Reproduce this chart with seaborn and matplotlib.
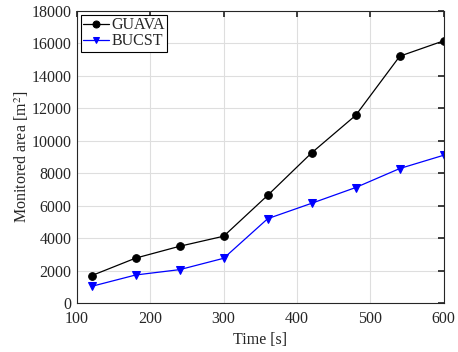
import matplotlib
matplotlib.use("Agg")
import matplotlib.pyplot as plt
import seaborn as sns
import pandas as pd

time_s = [120, 180, 240, 300, 360, 420, 480, 540, 600]
guava = [1690, 2770, 3500, 4120, 6640, 9260, 11570, 15210, 16160]
bucst = [1030, 1730, 2060, 2760, 5200, 6150, 7120, 8290, 9110]
series_names = ["GUAVA", "BUCST"]

df = pd.DataFrame({
    "Time": time_s * 2,
    "Area": guava + bucst,
    "Method": [series_names[0]] * len(time_s) + [series_names[1]] * len(time_s),
})

sns.set_theme(style="whitegrid")
plt.rcParams["font.family"] = ["Liberation Serif", "DejaVu Serif"]
plt.rcParams["mathtext.fontset"] = "stix"

fig = plt.figure(figsize=(4.58, 3.52), dpi=100)
ax = fig.add_axes([0.168, 0.139, 0.801, 0.830])

sns.lineplot(data=df, x="Time", y="Area", hue="Method", style="Method",
             palette={"GUAVA": "black", "BUCST": "#0000ff"},
             markers={"GUAVA": "o", "BUCST": "v"}, dashes=False,
             markersize=5.5, linewidth=0.9, ax=ax)
for line in ax.lines:
    line.set_markeredgecolor(line.get_color())

ax.set_xlim(100, 600)
ax.set_ylim(0, 18000)
ax.set_xticks([100, 200, 300, 400, 500, 600])
ax.set_yticks(range(0, 18001, 2000))
ax.set_xlabel("Time [s]", fontsize=11.5, color="#262626", labelpad=3)
ax.set_ylabel("Monitored area [m$^2$]", fontsize=11.5, color="#262626", labelpad=0)
ax.tick_params(axis="both", direction="in", length=4, labelsize=11.5,
               colors="#262626", top=True, right=True)
ax.tick_params(axis="y", pad=4)
ax.tick_params(axis="x", pad=6)
ax.grid(True, color="#dedede", linewidth=0.8)
for s in ax.spines.values():
    s.set_color("#262626")
    s.set_linewidth(0.8)

leg = ax.legend(loc="upper left", fontsize=11.5, frameon=True, fancybox=False,
                edgecolor="black", framealpha=1, borderpad=0.15,
                handlelength=1.6, handletextpad=0.15, labelspacing=0.0,
                borderaxespad=0.25, title=None)
leg.get_frame().set_linewidth(0.8)
for h in leg.get_lines():
    h.set_markersize(5)

fig.savefig("out.png", dpi=100)
